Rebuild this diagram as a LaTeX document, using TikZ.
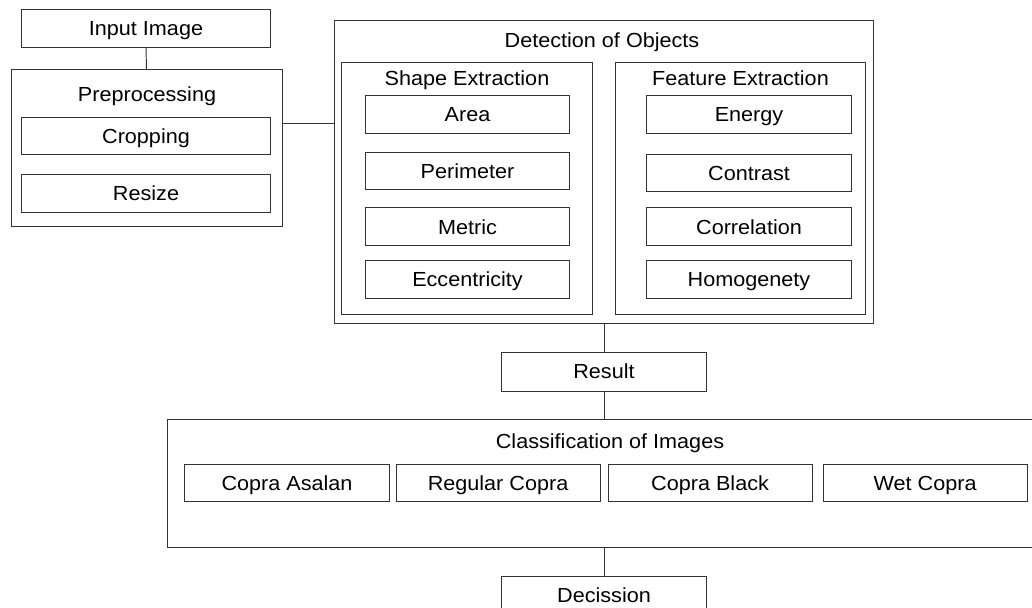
\documentclass[tikz,border=0pt]{standalone}
\usepackage{fontspec}
\setmainfont{Liberation Sans}[FakeStretch=1.06]
\usetikzlibrary{positioning}
\tikzset{
  box/.style={draw=black!80, line width=0.7pt, minimum width=5.1cm, minimum height=0.94cm,
    inner sep=0pt, text height=10.4pt, text depth=0pt, font=\fontsize{14.5}{17}\selectfont},
  frame/.style={draw=black!80, line width=0.7pt, inner sep=0pt},
  head/.style={anchor=base, inner sep=0pt, font=\fontsize{14.5}{17}\selectfont},
  link/.style={draw=black!80, line width=0.7pt},
}
\begin{document}
\begin{tikzpicture}[x=0.025cm, y=-0.025cm]
    \clip (0,0) rectangle (1032,607);

    % input and preprocessing
    \node[box, minimum width=6.2cm] (input) at (146,28.5) {Input Image};
    \node[frame, minimum width=6.75cm, minimum height=3.9cm] (prep) at (147,148) {};
    \node[head] (prephead) at (147,101) {Preprocessing};
    \node[box, minimum width=6.2cm] (crop) at (146,136) {Cropping};
    \node[box, minimum width=6.2cm] (resize) at (146,193.5) {Resize};

    % detection of objects
    \node[frame, minimum width=13.45cm, minimum height=7.55cm] (detect) at (604,172) {};
    \node[head] (detecthead) at (602,47) {Detection of Objects};
    \node[frame, minimum width=6.25cm, minimum height=6.275cm] (shape) at (467,188.5) {};
    \node[head] (shapehead) at (467,85) {Shape Extraction};
    \node[frame, minimum width=6.225cm, minimum height=6.275cm] (feat) at (740.5,188.5) {};
    \node[head] (feathead) at (740.5,85) {Feature Extraction};

    \node[box, minimum width=5.075cm] (area) at (467.5,114.5) {Area};
    \node[box, minimum width=5.075cm, below=0.45cm of area] (perim) {Perimeter};
    \node[box, minimum width=5.075cm, below=0.425cm of perim] (metric) {Metric};
    \node[box, minimum width=5.075cm, below=0.35cm of metric] (ecc) {Eccentricity};

    \node[box] (energy) at (749,114.5) {Energy};
    \node[box, below=0.5cm of energy] (contrast) {Contrast};
    \node[box, below=0.375cm of contrast] (correl) {Correlation};
    \node[box, below=0.35cm of correl] (homog) {Homogenety};

    % result and classification
    \node[box, minimum height=0.975cm] (result) at (604,371.5) {Result};
    \node[frame, minimum width=22.1cm, minimum height=3.2cm] (classif) at (610,483) {};
    \node[head] (classifhead) at (610,448) {Classification of Images};
    \node[box] (asalan) at (287,483) {Copra Asalan};
    \node[box, right=0.15cm of asalan] (regular) {Regular Copra};
    \node[box, right=0.175cm of regular] (black) {Copra Black};
    \node[box, right=0.25cm of black] (wet) {Wet Copra};
    \node[box] (decis) at (604,595) {Decission};

    \draw[link] (input) -- (prep);
    \draw[link] ([yshift=0.625cm]prep.east) coordinate (pj) -- (pj -| detect.west);
    \draw[link] (detect) -- (result);
    \draw[link] (result) -- (result |- classif.north);
    \draw[link] (decis |- classif.south) -- (decis);
\end{tikzpicture}
\end{document}
